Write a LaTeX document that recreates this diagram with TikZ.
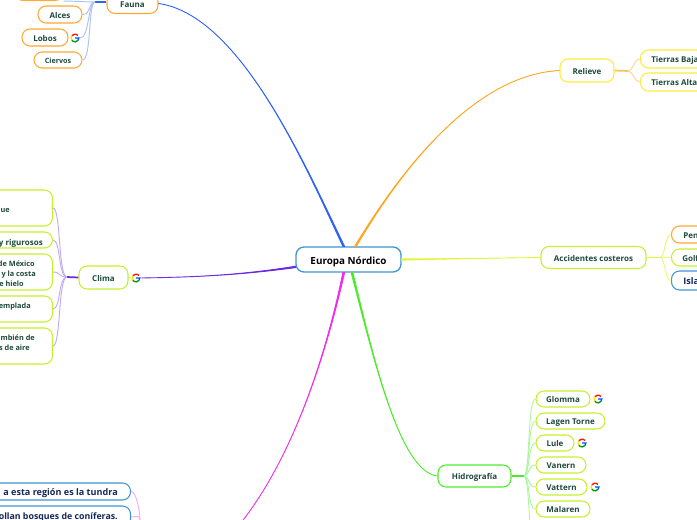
\documentclass[tikz,border=0pt]{standalone}
\usepackage{fontspec}
\setmainfont{Open Sans}
\usepackage{xcolor}
\usetikzlibrary{calc}

\definecolor{inkgreen}{HTML}{1E4A3C}
\definecolor{inknavy}{HTML}{14285A}
\definecolor{edgeorange}{HTML}{FFA834}
\definecolor{edgeyellow}{HTML}{FFEB3B}
\definecolor{edgelime}{HTML}{C6F02E}
\definecolor{edgeblue}{HTML}{3F95D2}
\definecolor{trunkblue}{HTML}{2F62F5}
\definecolor{trunkorange}{HTML}{FFA51F}
\definecolor{trunklime}{HTML}{E4F536}
\definecolor{trunkgreen}{HTML}{4CEB2A}
\definecolor{trunkpink}{HTML}{F02EEA}
\definecolor{trunkpurple}{HTML}{6A2BE2}

\newcommand{\taper}[6]{%
  \fill[#6, draw=#6, line width=0.65pt] ($(#2)-(#1)$) .. controls #3 and #4 .. (#5)
        .. controls #4 and #3 .. ($(#2)+(#1)$) -- cycle;}

\tikzset{
  sz/.style 2 args={minimum width=#1*0.75pt, minimum height=#2*0.75pt},
  bubble/.style={draw, fill=white, rounded corners=6pt, line width=0.8pt,
                 inner sep=0pt, text=inkgreen, text height=5.6pt, text depth=0pt,
                 font=\fontsize{6}{7.5}\selectfont\bfseries},
  orangebox/.style={bubble, draw=edgeorange},
  yellowbox/.style={bubble, draw=edgeyellow},
  limebox/.style={bubble, draw=edgelime},
  bluebox/.style={bubble, draw=edgeblue, text=inknavy},
  lbl/.style={inner sep=0pt, text=inkgreen, text height=5.6pt, text depth=0pt,
              font=\fontsize{6}{7.5}\selectfont\bfseries},
  smalllbl/.style={lbl, font=\fontsize{5.5}{7}\selectfont\bfseries},
  navylbl/.style={lbl, text=inknavy, font=\fontsize{6.8}{8}\selectfont\bfseries},
  stem/.style={line width=1.3pt},
  twig/.style={line width=0.7pt},
  gmark/.style={circle, minimum size=7.5pt, inner sep=0pt, path picture={
    \begin{scope}[shift={(path picture bounding box.center)}, line width=1pt]
      \draw[red!85!orange] (40:2.9pt) arc (40:145:2.9pt);
      \draw[yellow!85!orange] (145:2.9pt) arc (145:215:2.9pt);
      \draw[green!60!black] (215:2.9pt) arc (215:320:2.9pt);
      \draw[blue!70!cyan] (320:2.9pt) arc (320:360:2.9pt) -- (0pt,0pt);
    \end{scope}}}
}

\begin{document}
\begin{tikzpicture}[x=0.75pt, y=-0.75pt]

  \useasboundingbox (0,0) rectangle (697,520);
  \clip (0,0) rectangle (697,520);

  %--- Central node ---------------------------------------------------------
  \node[bubble, draw=edgeblue, sz={105}{25}, text=black, line width=1pt, text height=6.8pt,
        font=\fontsize{7.4}{9}\selectfont\bfseries] (root) at (348.5,259.5) {Europa Nórdico};

  %--- Fauna ----------------------------------------------------------------
  \coordinate (faunahub) at (95,2);
  \node[orangebox, sz={51}{20}] (fauna) at (132.5,3.5) {Fauna};
  \taper{0.9,0}{root.110}{(305,165)}{(240,15)}{fauna.east}{trunkblue}
  \draw[stem, trunkblue] (faunahub) -- (fauna.west |- faunahub);
  \node[orangebox, sz={48}{20}] (topleaf) at (39,-9.5) {};
  \node[orangebox, sz={44}{17}] (alces) at (60,14.5) {Alces};
  \node[orangebox, sz={46}{17}] (lobos) at (45,37.5) {Lobos};
  \node[gmark] (globos) at (75,38) {};
  \node[orangebox, sz={48}{16}, font=\fontsize{5.4}{7}\selectfont\bfseries] (ciervos) at (58,60) {Ciervos};
  \foreach \kid/\side in {topleaf/south east, alces/east, globos/east, ciervos/east}
    \draw[twig, trunkblue!40] (faunahub) .. controls +(-7,0) and +(9,0) .. (\kid.\side);

  %--- Clima ----------------------------------------------------------------
  \coordinate (climahub) at (67,277);
  \node[limebox, sz={49}{23}] (clima) at (103.5,277.5) {Clima};
  \node[gmark] (gclima) at (136,278) {};
  \taper{0,0.7}{root.188}{(240,275)}{(200,277)}{gclima.east}{trunkpurple}
  \draw[twig, edgelime] (clima.east) -- (gclima.west);
  \draw[stem, trunkpurple] (climahub) -- (clima.west);
  \node[limebox, sz={120}{36}, anchor=east] (calido) at (53,208) {};
  \node[limebox, sz={120}{16}, anchor=east] (rigor) at (53,240) {};
  \node[limebox, sz={120}{36}, anchor=east] (golfo) at (53,272) {};
  \node[limebox, sz={120}{26}, anchor=east] (templa) at (53,309) {};
  \node[limebox, sz={120}{36}, anchor=east] (masas) at (53,346) {};
  \foreach \kid in {calido, rigor, golfo, templa, masas}
    \draw[twig, trunkpurple!40] (climahub) .. controls +(-9,0) and +(8,0) .. (\kid.east);
  \node[smalllbl, anchor=east] at (10,209) {que};
  \node[lbl, anchor=east] at (43,241.5) {y rigurosos};
  \node[smalllbl, anchor=east] at (35,263) {de México};
  \node[smalllbl, anchor=east] at (36,273) {y la costa};
  \node[smalllbl, anchor=east] at (24,283) {e hielo};
  \node[smalllbl, anchor=east] at (31,305) {emplada};
  \node[smalllbl, anchor=east] at (35,337) {mbién de};
  \node[smalllbl, anchor=east] at (30,347) {s de aire};

  %--- Vegetacion -----------------------------------------------------------
  \coordinate (pinkhub) at (140,522);
  \coordinate (pinkend) at (240,524);
  \taper{0.9,0}{root.250}{(327,350)}{(295,455)}{pinkend}{trunkpink}
  \node[bluebox, sz={170}{17}, anchor=east] (tundra) at (131,491.5) {};
  \node[bluebox, sz={170}{22}, anchor=east] (conifera) at (131,517) {};
  \foreach \kid in {tundra, conifera}
    \draw[twig, trunkpink!40] (pinkhub) .. controls +(0,-8) and +(6,0) .. (\kid.east);
  \node[navylbl, anchor=east] at (118,492) {a esta región es la tundra};
  \node[navylbl, anchor=east, font=\fontsize{6.6}{8}\selectfont\bfseries] at (118,516) {ollan bosques de coníferas.};

  %--- Relieve --------------------------------------------------------------
  \coordinate (relievehub) at (628,71);
  \node[yellowbox, sz={54}{23}] (relieve) at (587,70.5) {Relieve};
  \taper{0.9,0}{root.62}{(395,180)}{(470,75)}{relieve.west}{trunkorange}
  \draw[stem, trunkorange!70] (relieve.east) -- (relievehub);
  \node[yellowbox, sz={100}{18}, anchor=west] (bajas) at (640,59) {};
  \node[yellowbox, sz={100}{18}, anchor=west] (altas) at (640,82) {};
  \foreach \kid in {bajas, altas}
    \draw[twig, trunkorange!50] (relievehub) .. controls +(5,0) and +(-6,0) .. (\kid.west);
  \node[lbl, anchor=west] at (651,59) {Tierras Baja};
  \node[lbl, anchor=west] at (651,82) {Tierras Alta};

  %--- Accidentes costeros --------------------------------------------------
  \coordinate (costahub) at (660,257.5);
  \node[limebox, sz={105}{22}] (costa) at (593.5,257.5) {Accidentes costeros};
  \taper{0,0.7}{root.east}{(440,259)}{(500,258)}{costa.west}{trunklime}
  \draw[stem, trunklime] (costa.east) -- (costahub);
  \node[orangebox, sz={60}{17}, anchor=west] (penin) at (671,234.5) {};
  \node[limebox, sz={60}{17}, anchor=west] (golf) at (671,257.5) {};
  \node[bluebox, sz={60}{19}, anchor=west] (islas) at (671,280.5) {};
  \foreach \kid in {penin, golf, islas}
    \draw[twig, trunklime!70] (costahub) .. controls +(5,0) and +(-6,0) .. (\kid.west);
  \node[lbl, anchor=west] at (683,234.5) {Pen};
  \node[lbl, anchor=west] at (682,257.5) {Golf};
  \node[navylbl, anchor=west] at (683,280.5) {Isla};

  %--- Hidrografia ----------------------------------------------------------
  \coordinate (hidrohub) at (524,476);
  \coordinate (riomas) at (530,524);
  \node[bubble, draw=trunkgreen, sz={73}{22}] (hidro) at (474.5,476) {Hidrografía};
  \taper{0.9,0}{root.285}{(374,360)}{(400,472)}{hidro.west}{trunkgreen}
  \draw[stem, trunkgreen] (hidro.east) -- (hidrohub);
  \node[limebox, sz={54}{16}] (glomma) at (563,399) {Glomma};
  \node[gmark] (gglomma) at (598,399) {};
  \node[limebox, sz={69}{16}] (lagen) at (570.5,421) {Lagen Torne};
  \node[limebox, sz={38}{16}] (lule) at (555,443) {Lule};
  \node[gmark] (glule) at (582,443) {};
  \node[limebox, sz={50}{16}] (vanern) at (561,465) {Vanern};
  \node[limebox, sz={51}{16}] (vattern) at (561.5,487) {Vattern};
  \node[gmark] (gvattern) at (595,487) {};
  \node[limebox, sz={54}{16}] (malaren) at (563,509) {Malaren};
  \foreach \kid in {glomma, lagen, lule, vanern, vattern, malaren}
    \draw[twig, trunkgreen!45] (hidrohub) .. controls +(6,0) and +(-8,0) .. (\kid.west);
  \draw[twig, trunkgreen!45] (hidrohub) .. controls +(4,0) and +(-1,-10) .. (riomas);

\end{tikzpicture}
\end{document}
